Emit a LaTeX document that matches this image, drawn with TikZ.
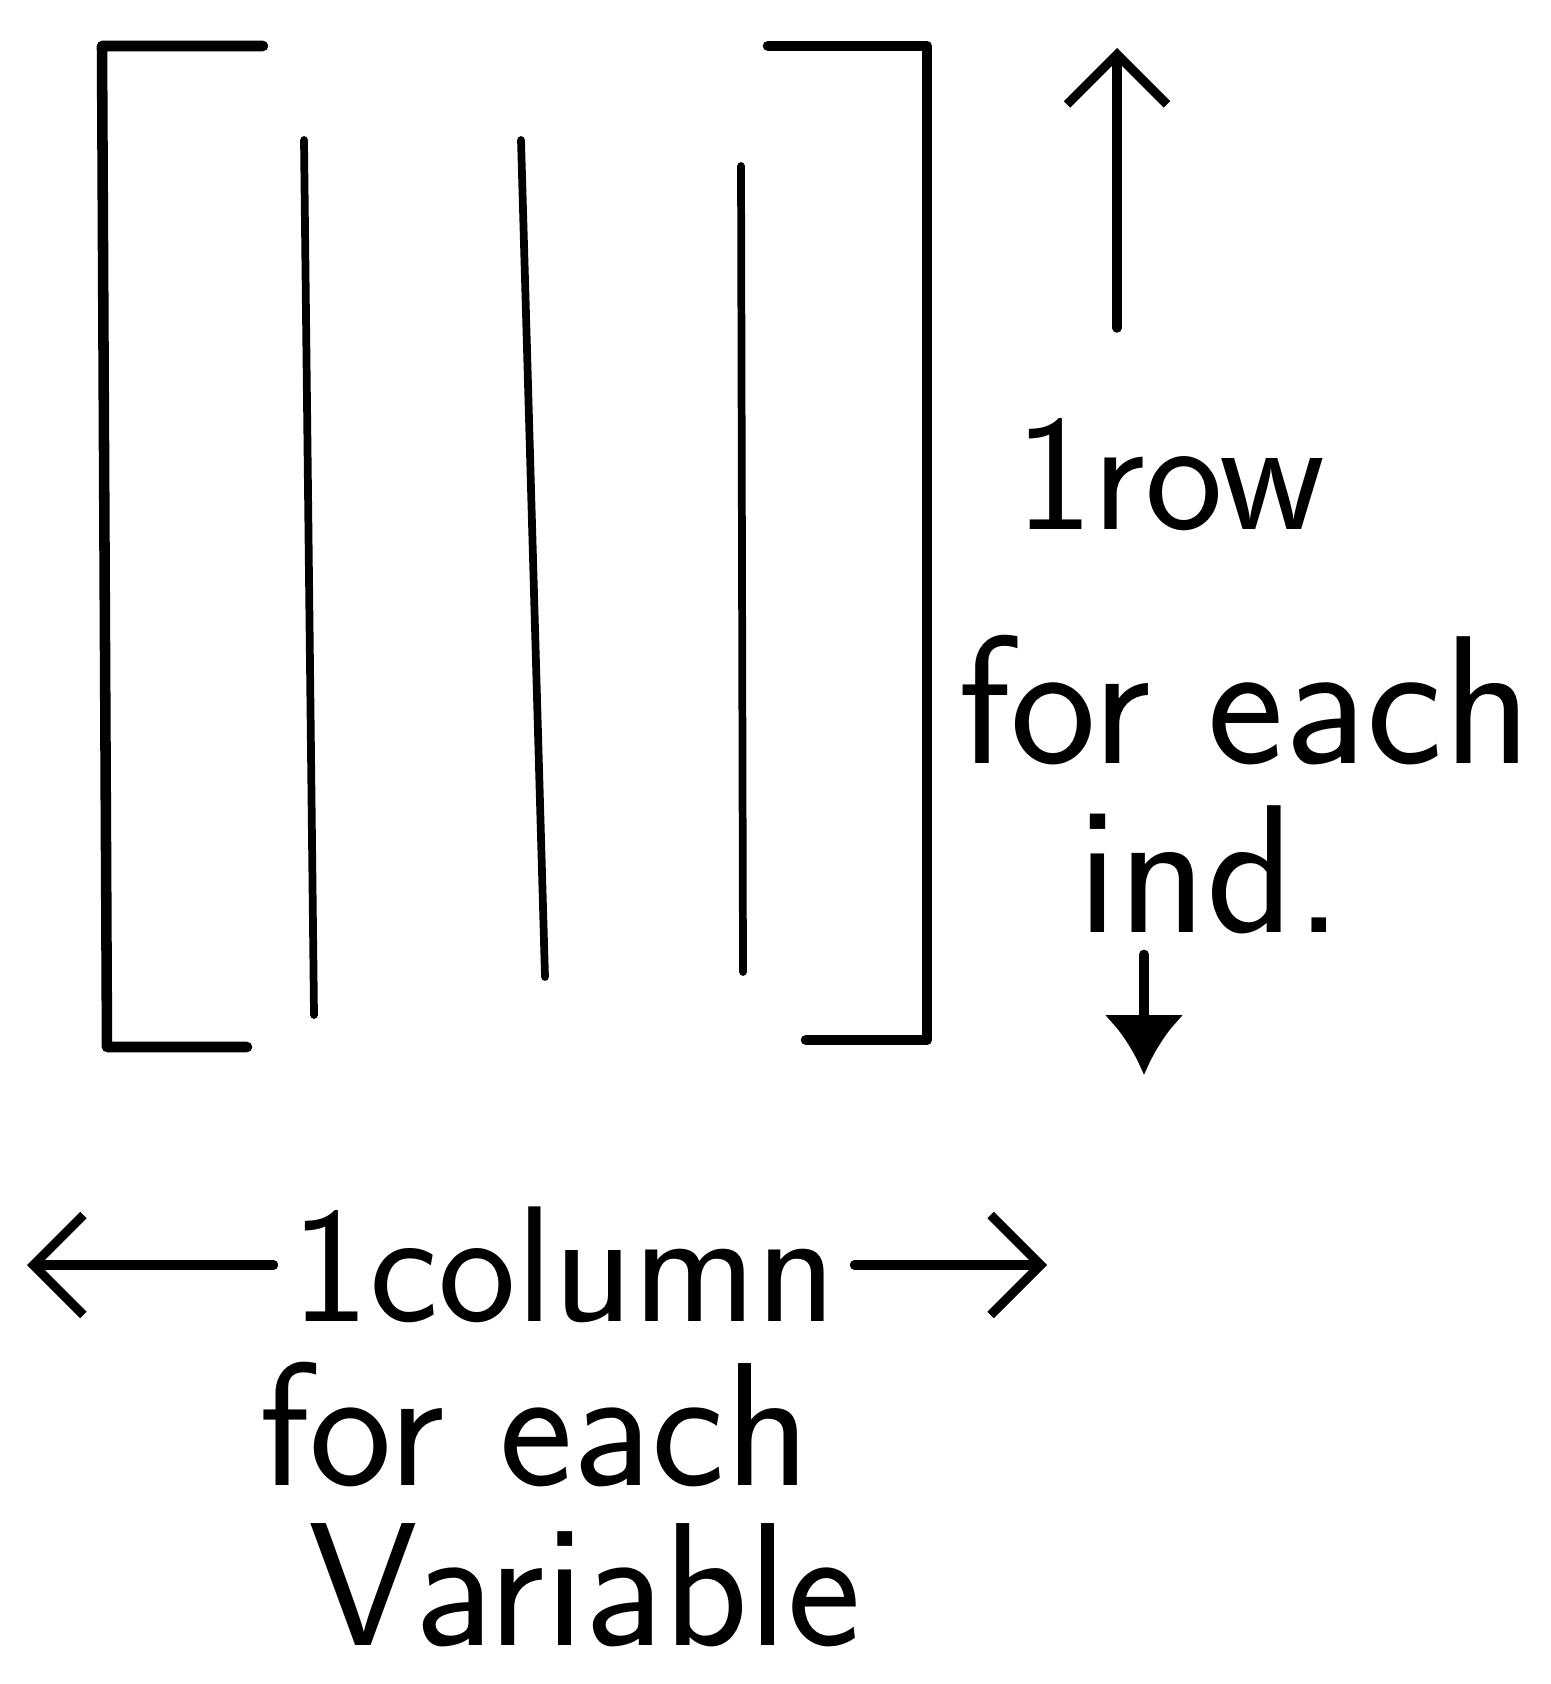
\documentclass[tikz,border=0pt]{standalone}
\usepackage{tikz}
\usetikzlibrary{arrows.meta,positioning}

\begin{document}
\begin{tikzpicture}[
  line cap=round, line join=round,
  hand/.style={font=\sffamily\fontsize{47}{52}\selectfont, inner sep=0pt},
  bighand/.style={hand, font=\sffamily\fontsize{52}{57}\selectfont},
  lowhand/.style={hand, font=\sffamily\fontsize{50}{55}\selectfont},
  bracket/.style={line width=3pt},
  divider/.style={line width=2.2pt},
  pointer/.style={line width=2.6pt, -{Straight Barb[length=5mm,width=10mm]}},
  droparrow/.style={line width=3pt, -{Latex[length=6mm,width=8mm]}}
]
\useasboundingbox (0,0) rectangle (15.5,-16.84);

% matrix frame
\draw[bracket] (2.63,-0.46) -- (1.02,-0.46) -- (1.07,-10.47) -- (2.47,-10.47);
\draw[bracket] (7.68,-0.46) -- (9.27,-0.46) -- (9.27,-10.40) -- (8.06,-10.40);
% columns
\draw[divider] (3.04,-1.40) -- (3.14,-10.15);
\draw[divider] (5.21,-1.40) -- (5.45,-9.77);
\draw[divider] (7.41,-1.66) -- (7.43,-9.72);

% rows
\node[hand] (row) at (11.7,-4.75) {1row};
\node[bighand] (each) at (12.45,-7.0) {for each};
\node[bighand] (ind) at (12.1,-8.7) {ind.};
\coordinate (top) at (11.17,-0.48);
\coordinate (bottom) at (11.44,-10.75);
\draw[pointer] ([yshift=9mm]row.north -| top) -- (top);
\draw[droparrow] ([yshift=-2mm]ind.south -| bottom) -- (bottom);

% columns label
\node[hand, inner xsep=5pt] (col) at (5.64,-12.65) {1column};
\node[lowhand] (each2) at (5.35,-14.25) {for each};
\node[lowhand] (var) at (5.85,-15.85) {Variable};
\coordinate (left) at (0.27,-12.65);
\coordinate (right) at (10.47,-12.65);
\draw[pointer] (col.west) -- (left);
\draw[pointer] (col.east) -- (right);
\end{tikzpicture}
\end{document}
